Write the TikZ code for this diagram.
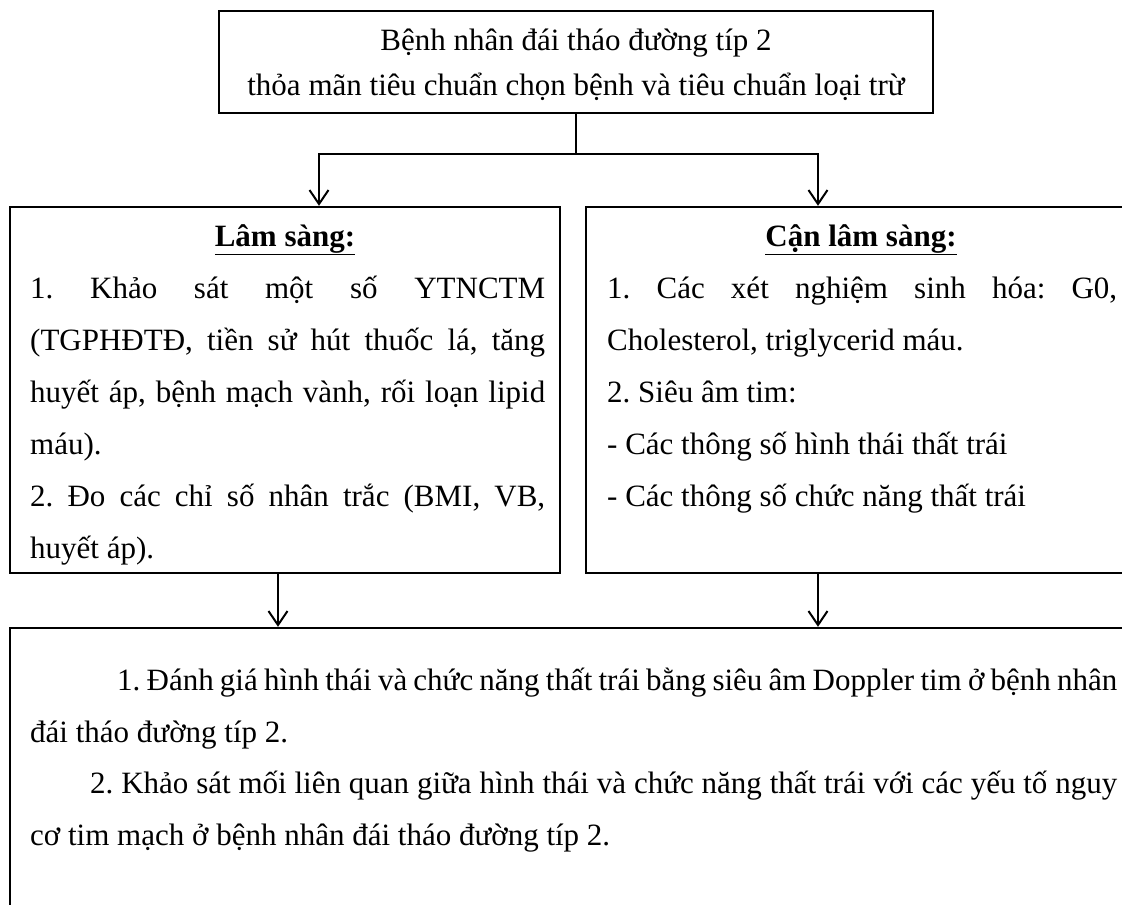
\documentclass[tikz,border=0pt]{standalone}
\usepackage{fontspec}
\setmainfont{Liberation Serif}
\usetikzlibrary{arrows.meta}
\newcommand{\myfs}{\fontsize{31}{31}\selectfont\frenchspacing}
\begin{document}
\begin{tikzpicture}[x=1pt,y=-1pt,
  box/.style={draw, line width=2.4pt, inner sep=0pt},
  txt/.style={inner sep=0pt, font=\myfs, anchor=base},
  ln/.style={inner sep=0pt, font=\myfs, anchor=base west},
  conn/.style={line width=2pt},
  arr/.style={line width=2pt, -{Straight Barb[length=14pt,width=19pt,line width=2pt]}}]
\useasboundingbox (0,0) rectangle (1122,905);
\clip (0,0) rectangle (1122,905);
\fill[white] (0,0) rectangle (1122,905);
% boxes
\node[box, minimum width=714pt, minimum height=102pt] (top) at (576,62) {};
\node[box, minimum width=550pt, minimum height=366pt] (left) at (285,390) {};
\node[box, minimum width=550pt, minimum height=366pt] (right) at (861,390) {};
\node[box, minimum width=1126pt, minimum height=320pt] (bot) at (573,788) {};
% top text
\node[txt] (t1) at (576,50) {Bệnh nhân đái tháo đường típ 2};
\node[txt] (t2) at (576,95) {thỏa mãn tiêu chuẩn chọn bệnh và tiêu chuẩn loại trừ};
% left text
\node[txt] (lh) at (285,246) {\textbf{\underline{Lâm sàng:}}};
\node[ln] (l1) at (30,298) {\makebox[515pt][s]{1. Khảo sát một số YTNCTM}};
\node[ln] (l2) at (30,350) {\makebox[515pt][s]{(TGPHĐTĐ, tiền sử hút thuốc lá, tăng}};
\node[ln] (l3) at (30,402) {\makebox[515pt][s]{huyết áp, bệnh mạch vành, rối loạn lipid}};
\node[ln] (l4) at (30,454) {máu).};
\node[ln] (l5) at (30,506) {\makebox[515pt][s]{2. Đo các chỉ số nhân trắc (BMI, VB,}};
\node[ln] (l6) at (30,558) {huyết áp).};
% right text
\node[txt] (rh) at (861,246) {\textbf{\underline{Cận lâm sàng:}}};
\node[ln] (r1) at (607,298) {\makebox[510pt][s]{1. Các xét nghiệm sinh hóa: G0,}};
\node[ln] (r2) at (607,350) {Cholesterol, triglycerid máu.};
\node[ln] (r3) at (607,402) {2. Siêu âm tim:};
\node[ln] (r4) at (607,454) {- Các thông số hình thái thất trái};
\node[ln] (r5) at (607,506) {- Các thông số chức năng thất trái};
% bottom text
\node[ln] (b1) at (117,690) {\makebox[1000pt][s]{1. Đánh giá hình thái và chức năng thất trái bằng siêu âm Doppler tim ở bệnh nhân}};
\node[ln] (b2) at (30,742) {đái tháo đường típ 2.};
\node[ln] (b3) at (90,793) {\makebox[1027pt][s]{2. Khảo sát mối liên quan giữa hình thái và chức năng thất trái với các yếu tố nguy}};
\node[ln] (b4) at (30,845) {cơ tim mạch ở bệnh nhân đái tháo đường típ 2.};
% connectors
\coordinate (j) at ([yshift=-40pt]top.south);
\draw[conn] (top.south) -- (j);
\draw[arr] (j) -| ([xshift=34pt]left.north);
\draw[arr] (j) -| ([xshift=-43pt]right.north);
\draw[arr] ([xshift=-7pt]left.south) -- ([xshift=-7pt]left.south |- bot.north);
\draw[arr] ([xshift=-43pt]right.south) -- ([xshift=-43pt]right.south |- bot.north);
\end{tikzpicture}
\end{document}
